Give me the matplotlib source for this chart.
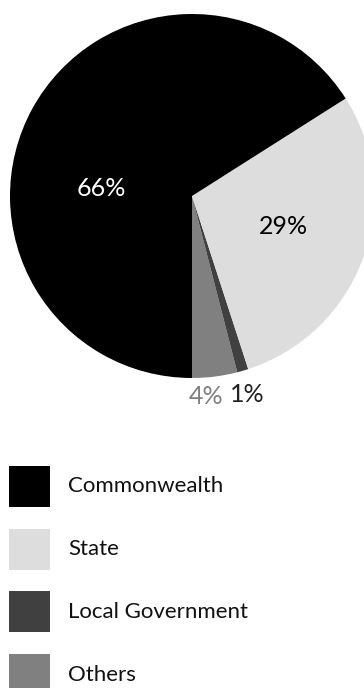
import matplotlib
matplotlib.use("Agg")
import matplotlib.pyplot as plt
from matplotlib.patches import Rectangle

# Funding shares by level of government (percent)
categories = ["Others", "Local Government", "State", "Commonwealth"]
shares = [4, 1, 29, 66]
colors = ["#808080", "#404040", "#dddddd", "#000000"]
legend_order = ["Commonwealth", "State", "Local Government", "Others"]

plt.rcParams["font.family"] = ["Lato", "DejaVu Sans"]

W, H = 364, 688
fig = plt.figure(figsize=(W / 100, H / 100), dpi=100)
ax = fig.add_axes([0, 0, 1, 1])

cx, cy, r = 192, H - 196, 182
ax.pie(shares, colors=colors, startangle=270, counterclock=True,
       radius=r, center=(cx, cy), frame=True,
       wedgeprops=dict(linewidth=0))
ax.set_xlim(0, W)
ax.set_ylim(0, H)
ax.axis("off")

# Percentage labels
label_style = dict(fontsize=18, ha="center", va="center")
ax.text(101, H - 189, f"{shares[3]}%", color="white", **label_style)
ax.text(283, H - 227, f"{shares[2]}%", color="black", **label_style)
ax.text(206, H - 396, f"{shares[0]}%", color="#808080", **label_style)
ax.text(247, H - 394, f"{shares[1]}%", color="#222222", **label_style)

# Legend drawn as swatches with labels
color_of = dict(zip(categories, colors))
box, top0, step = 41, 466, 62.7
for i, name in enumerate(legend_order):
    top = top0 + i * step
    ax.add_patch(Rectangle((9, H - top - box), box, box,
                           facecolor=color_of[name], edgecolor="none", clip_on=False))
    ax.text(68, H - top - box / 2, name, fontsize=16, ha="left", va="center",
            color="#111111")

fig.savefig("out.png", dpi=100)
